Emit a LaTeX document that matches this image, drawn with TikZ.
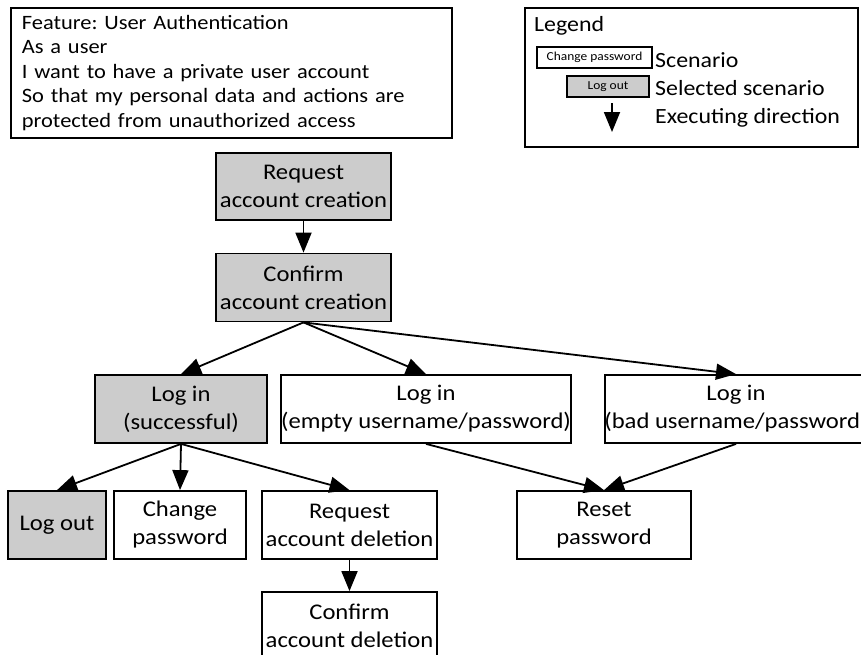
\documentclass[tikz,border=0pt]{standalone}
\usepackage{fontspec}
\setmainfont{Carlito}[FakeStretch=1.1]
\usetikzlibrary{arrows.meta}
\tikzset{
  box/.style={draw, line width=1.8pt, rectangle, align=center, inner sep=0pt, font=\fontsize{22.4}{28}\selectfont},
  sel/.style={box, fill=selgray},
  conn/.style={line width=1.8pt, -{Triangle[length=20pt,width=16pt]}},
  lgtext/.style={anchor=base west, inner sep=0pt, font=\fontsize{21.7}{26}\selectfont},
  smallbox/.style={draw, line width=1.5pt, rectangle, inner sep=0pt, font=\fontsize{12.2}{14}\selectfont}
}
\definecolor{selgray}{HTML}{CCCCCC}
\begin{document}
\frenchspacing
\begin{tikzpicture}[x=1pt,y=-1pt]
\useasboundingbox (0,0) rectangle (861,654);
\clip (0,0) rectangle (861,654);
% feature
\node[draw, line width=1.8pt, anchor=north west, minimum width=441pt, minimum height=130pt, text width=419pt, inner xsep=11pt, inner ysep=0pt, align=left, font=\fontsize{20.4}{24.5}\selectfont] (feature) at (10,7) {Feature: User Authentication\\As a user\\I want to have a private user account\\So that my personal data and actions are\\protected from unauthorized access};
% legend
\node[draw, line width=1.8pt, anchor=north west, minimum width=333pt, minimum height=139pt, inner sep=0pt] (legend) at (524,7) {};
\node[lgtext] (lgtitle) at (534,31) {Legend};
\node[smallbox, minimum width=115pt, minimum height=21pt] (lgscen) at (594.5,57.5) {Change password};
\node[smallbox, fill=selgray, minimum width=82pt, minimum height=21pt] (lgsel) at (608,86.5) {Log out};
\node[lgtext] (lgscentxt) at (655,67) {Scenario};
\node[lgtext] (lgseltxt) at (655,95) {Selected scenario};
\node[lgtext] (lgdirtxt) at (655,123) {Executing direction};
\coordinate (lga) at (612,103);
\coordinate (lgb) at (612,132);
\draw[conn] (lga) -- (lgb);
% main boxes
\node[sel, minimum width=175pt, minimum height=67pt] (reqc) at (303.5,186.5) {Request\\account creation};
\node[sel, minimum width=175pt, minimum height=68pt] (confc) at (303.5,287.5) {Confirm\\account creation};
\node[sel, minimum width=172pt, minimum height=68pt] (logs) at (181,409) {Log in\\(successful)};
\node[box, minimum width=290pt, minimum height=68pt] (loge) at (426,409) {Log in\\(empty username/password)};
\node[box, minimum width=262pt, minimum height=68pt] (logb) at (736,409) {Log in\\\makebox[200pt][c]{(bad username/password)}};
\node[sel, minimum width=98pt, minimum height=68pt] (logout) at (57,525) {Log out};
\node[box, minimum width=132pt, minimum height=68pt] (chpw) at (180,525) {Change\\password};
\node[box, minimum width=175pt, minimum height=68pt] (reqd) at (349.5,525) {Request\\account deletion};
\node[box, minimum width=175pt, minimum height=68pt] (confd) at (349.5,626) {Confirm\\account deletion};
\node[box, minimum width=174pt, minimum height=68pt] (reset) at (604,525) {Reset\\password};
% connectors
\draw[conn] (reqc.south) -- (confc.north);
\draw[conn] (confc.south) -- (logs.north);
\draw[conn] (confc.south) -- (loge.north);
\draw[conn] (confc.south) -- (logb.north);
\draw[conn] (logs.south) -- (logout.north);
\draw[conn] (logs.south) -- (chpw.north);
\draw[conn] (logs.south) -- (reqd.north);
\draw[conn] (reqd.south) -- (confd.north);
\draw[conn] (loge.south) -- (reset.north);
\draw[conn] (logb.south) -- (reset.north);
\end{tikzpicture}
\end{document}
